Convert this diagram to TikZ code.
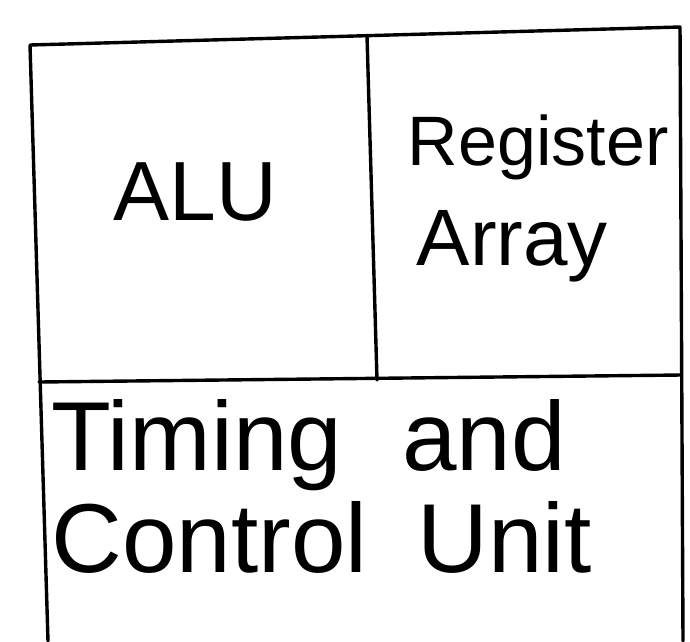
\documentclass[tikz,border=0pt]{standalone}
\usepackage{fontspec}
\setmainfont{Liberation Sans}
\usetikzlibrary{positioning}

\begin{document}
\begin{tikzpicture}[x=1pt,y=-1pt,line width=3.4pt,line cap=round,line join=round,
    hand/.style={anchor=base west,inner sep=0pt}]
    \useasboundingbox (0,0) rectangle (690,641);
    % outline of the box
    \coordinate (tl) at (30,45);
    \coordinate (tr) at (680,27);
    \coordinate (bl) at (48,641);
    \coordinate (br) at (683,641);
    \coordinate (mt) at (367,36);
    \coordinate (mb) at (377,380);
    \coordinate (ml) at (39,382);
    \coordinate (mr) at (681,375);

    \draw (bl) -- (tl) -- (tr) -- (br);
    \draw (mt) -- (mb);
    \draw (ml) -- (mr);

    \node[hand,font=\fontsize{84}{84}\selectfont] (alu) at (112,220) {ALU};
    \node[hand,font=\fontsize{70}{70}\selectfont] (reg) at (406,165) {Register};
    \node[hand,font=\fontsize{80}{80}\selectfont] (arr) at (415,265) {Array};
    \node[hand,font=\fontsize{98}{98}\selectfont] (tim) at (50,470) {Timing\hspace{60pt}and};
    \node[hand,font=\fontsize{98}{98}\selectfont] (ctl) at (50,572) {Control\hspace{50pt}Unit};
\end{tikzpicture}
\end{document}
